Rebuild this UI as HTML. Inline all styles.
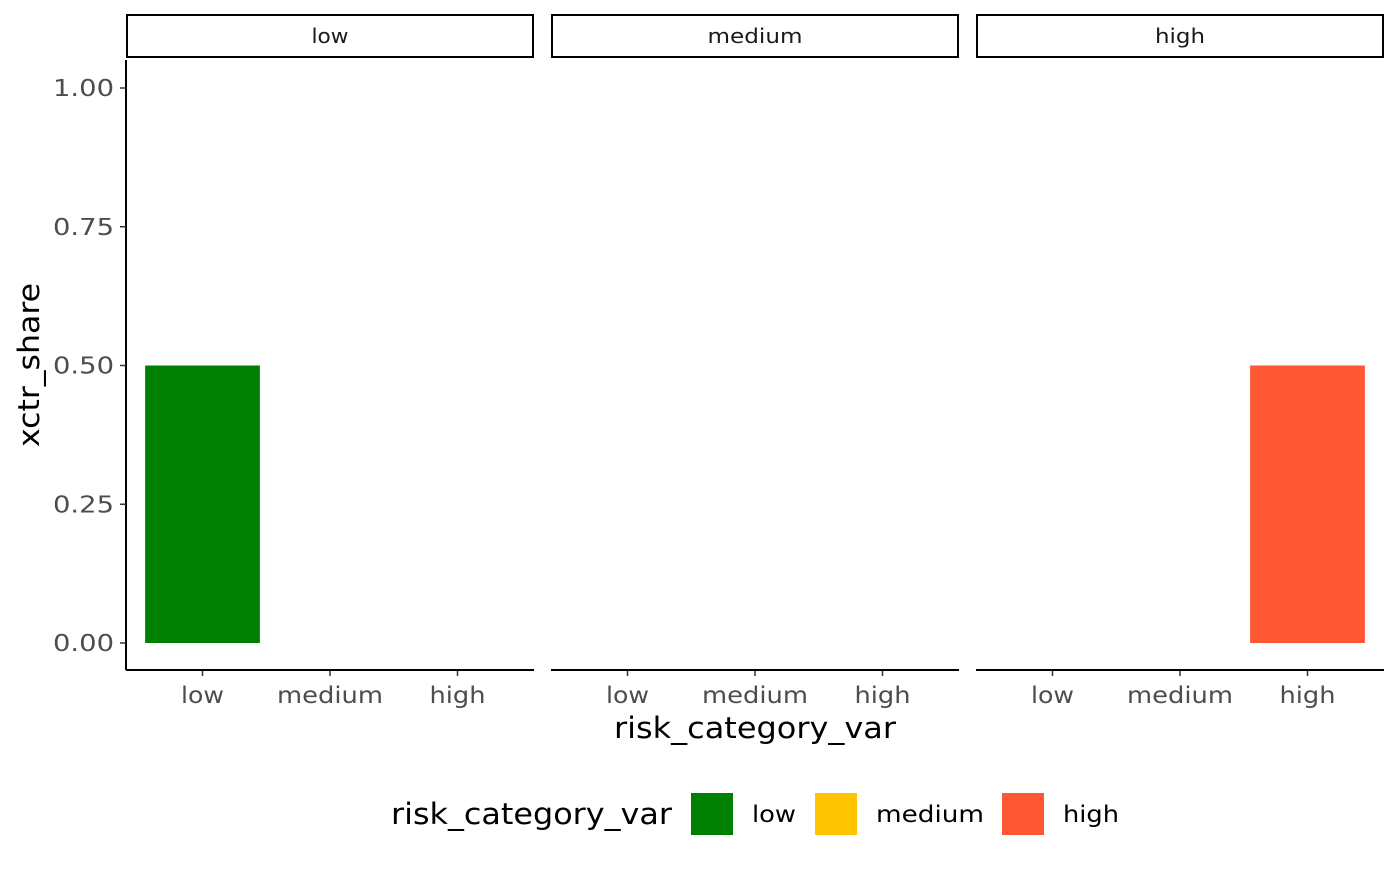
<!DOCTYPE html>
<html><head><meta charset="utf-8"><style>
body{margin:0;background:#fff}
text{font-family:"DejaVu Sans","Liberation Sans",sans-serif}
</style></head><body>
<svg id="chart" width="1400" height="866" xmlns="http://www.w3.org/2000/svg"></svg>
<script>
const facets=["low","medium","high"];
const categories=["low","medium","high"];
const values=[[0.5,0,0],[0,0,0],[0,0,0.5]];
const yTicks=[0,0.25,0.5,0.75,1.0];
const yTickLabels=["0.00","0.25","0.50","0.75","1.00"];
const colors={low:"#008000",medium:"#FFC300",high:"#FF5733"};
const svg=document.getElementById('chart');
const NS="http://www.w3.org/2000/svg";
const tickW={low:43,medium:106,high:56};
const stripW={low:37,medium:95,high:50};
const legW={low:44,medium:108,high:56};
function mk(tag,attrs,parent){const e=document.createElementNS(NS,tag);for(const k in attrs)e.setAttribute(k,attrs[k]);(parent||svg).appendChild(e);return e;}
const panelX=[126,551,976],panelW=408,panelBottom=670;
const yScale=v=>643-v*555;
const unit=panelW/3.2;
const xScale=(p,i)=>panelX[p]+(0.6+i)*unit;
const LA='spacingAndGlyphs';
facets.forEach((f,p)=>{
  const g=mk('g',{});
  
  
  const s=mk('rect',{x:panelX[p]+1,y:15,width:panelW-2,height:42,fill:'#fff',stroke:'#000','stroke-width':2},g);
  
  
  const st=mk('text',{x:panelX[p]+panelW/2,y:43,'text-anchor':'middle','font-size':20,fill:'#1a1a1a',textLength:stripW[f],lengthAdjust:LA},g);st.textContent=f;
  
  
  categories.forEach((c,i)=>{
    const v=values[p][i];
    if(v>0){const b=mk('rect',{x:xScale(p,i)-0.45*unit,y:yScale(v),width:0.9*unit,height:yScale(0)-yScale(v),fill:colors[c]},g);
      
      }
    mk('line',{x1:xScale(p,i),x2:xScale(p,i),y1:panelBottom,y2:panelBottom+6,stroke:'#333','stroke-width':1.5},g);
    const t=mk('text',{x:xScale(p,i),y:703,'text-anchor':'middle','font-size':23,fill:'#4d4d4d',textLength:tickW[c],lengthAdjust:LA},g);t.textContent=c;
    
    
  });
  const ax=mk('line',{x1:panelX[p],x2:panelX[p]+panelW,y1:panelBottom,y2:panelBottom,stroke:'#000','stroke-width':2},g);
  
  
});
const yl=mk('line',{x1:126,x2:126,y1:60,y2:670,stroke:'#000','stroke-width':2});


yTicks.forEach((v,i)=>{
  mk('line',{x1:120,x2:126,y1:yScale(v),y2:yScale(v),stroke:'#333','stroke-width':1.5});
  const t=mk('text',{x:114,y:yScale(v)+8,'text-anchor':'end','font-size':23,fill:'#4d4d4d',textLength:61,lengthAdjust:LA});t.textContent=yTickLabels[i];
  
  
});
const xt=mk('text',{x:755,y:738,'text-anchor':'middle','font-size':29,fill:'#000',textLength:282,lengthAdjust:LA});xt.textContent='risk_category_var';


const yt=mk('text',{x:39,y:365,'text-anchor':'middle','font-size':29,fill:'#000',transform:'rotate(-90 39 365)',textLength:164,lengthAdjust:LA});yt.textContent='xctr_share';


const lt=mk('text',{x:391,y:824,'font-size':29,fill:'#000',textLength:281,lengthAdjust:LA});lt.textContent='risk_category_var';


const keyX=[691,815,1002];
categories.forEach((c,i)=>{
  const r=mk('rect',{x:keyX[i],y:793,width:42,height:42,fill:colors[c]});
  
  
  const t=mk('text',{x:keyX[i]+61,y:822,'font-size':23,fill:'#000',textLength:legW[c],lengthAdjust:LA});t.textContent=c;
  
  
});
</script>
</body></html>
